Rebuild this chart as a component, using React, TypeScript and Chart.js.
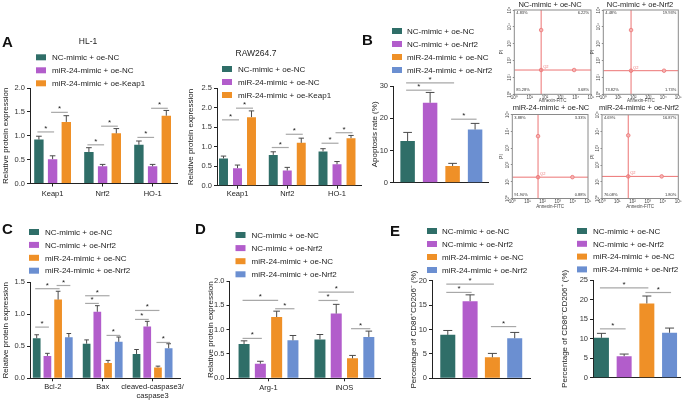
import React, { useEffect, useRef } from 'react';
import { Chart, registerables } from 'chart.js';

Chart.register(...registerables);

const FONT = "'Liberation Sans', Arial, Helvetica, sans-serif";
const TEAL = '#2f6e68';
const PURPLE = '#b25dcb';
const ORANGE = '#ef9027';
const BLUE = '#6b8fd1';
const AXIS = '#222222';

// ---------- data ----------
const GROUPS_3 = ['NC-mimic + oe-NC', 'miR-24-mimic + oe-NC', 'miR-24-mimic + oe-Keap1'];
const GROUPS_4 = ['NC-mimic + oe-NC', 'NC-mimic + oe-Nrf2', 'miR-24-mimic + oe-NC', 'miR-24-mimic + oe-Nrf2'];

const A_CATS = ['Keap1', 'Nrf2', 'HO-1'];
const HL1_MEAN = [[0.92, 0.66, 0.81], [0.51, 0.36, 0.36], [1.29, 1.05, 1.42]];
const HL1_SD = [[0.07, 0.09, 0.08], [0.07, 0.04, 0.04], [0.13, 0.10, 0.11]];
// [category, group a, group b, bracket height]
const HL1_SIG = [[0, 0, 1, 1.08], [0, 1, 2, 1.49], [1, 0, 1, 0.81], [1, 1, 2, 1.2], [2, 0, 1, 0.965], [2, 1, 2, 1.575]];

const RAW_MEAN = [[0.70, 0.79, 0.88], [0.45, 0.39, 0.55], [1.76, 1.10, 1.22]];
const RAW_SD = [[0.06, 0.08, 0.07], [0.08, 0.08, 0.07], [0.16, 0.12, 0.07]];
const RAW_SIG = [[0, 0, 1, 1.69], [0, 1, 2, 1.99], [1, 0, 1, 0.98], [1, 1, 2, 1.32], [2, 0, 1, 1.09], [2, 1, 2, 1.36]];

const B_CATS = [''];
const B_MEAN = [[12.9], [24.8], [5.2], [16.5]];
const B_SD = [[2.7], [3.2], [0.8], [1.9]];
const B_SIG = [[0, 0, 2, 31.0], [0, 0, 1, 28.7], [0, 2, 3, 19.7]];

const C_CATS = ['Bcl-2', 'Bax', ['cleaved-caspase3/', 'caspase3']];
const C_MEAN = [[0.625, 0.54, 0.38], [0.35, 1.04, 0.81], [1.23, 0.24, 0.17], [0.64, 0.57, 0.47]];
const C_SD = [[0.055, 0.06, 0.07], [0.04, 0.095, 0.08], [0.13, 0.04, 0.02], [0.06, 0.075, 0.07]];
const C_SIG = [[0, 0, 1, 0.8], [0, 0, 2, 1.4], [0, 2, 3, 1.45], [1, 0, 1, 1.17], [1, 0, 2, 1.29], [1, 2, 3, 0.67], [2, 0, 1, 0.92], [2, 0, 2, 1.06], [2, 2, 3, 0.56]];

const D_CATS = ['Arg-1', 'iNOS'];
const D_MEAN = [[0.705, 0.80], [0.30, 1.33], [1.26, 0.41], [0.78, 0.85]];
const D_SD = [[0.065, 0.10], [0.05, 0.19], [0.12, 0.06], [0.10, 0.12]];
const D_SIG = [[0, 0, 1, 0.82], [0, 0, 2, 1.6], [0, 2, 3, 1.43], [1, 0, 1, 1.6], [1, 0, 2, 1.77], [1, 2, 3, 1.02]];

const E1_MEAN = [[8.9], [15.8], [4.3], [8.2]];
const E1_SD = [[0.9], [1.3], [0.8], [1.2]];
const E1_SIG = [[0, 0, 1, 17.6], [0, 0, 2, 19.3], [0, 2, 3, 10.6]];

const E2_MEAN = [[10.2], [5.5], [19.0], [11.5]];
const E2_SD = [[1.15], [0.55], [1.9], [1.2]];
const E2_SIG = [[0, 0, 1, 12.5], [0, 0, 2, 23.0], [0, 2, 3, 21.8]];

const FLOW_TITLES = ['NC-mimic + oe-NC', 'NC-mimic + oe-Nrf2', 'miR-24-mimic + oe-NC', 'miR-24-mimic + oe-Nrf2'];
// upper-left, upper-right, lower-left, lower-right
const FLOW_QUADRANTS = [
  ['4.83%', '6.22%', '85.28%', '3.68%'],
  ['4.48%', '19.93%', '73.82%', '1.73%'],
  ['3.88%', '3.33%', '91.90%', '0.88%'],
  ['4.69%', '16.87%', '76.08%', '1.80%'],
];
// gate (log10 units): vertical x, horizontal y, top handle y, right handle x
const FLOW_GATES = [
  [1.75, 1.44, 3.81, 3.9],
  [1.85, 1.40, 3.81, 4.05],
  [1.70, 1.27, 3.71, 3.97],
  [1.72, 1.32, 3.77, 3.91],
];
const LOG_TICKS = [0, 1, 2, 3, 4, 5];
const SUP = ['⁰', '¹', '²', '³', '⁴', '⁵'];

// ---------- layout ----------
type Rect = { l: number; t: number; w: number; h: number };
type Area = { x0: number; x1: number; y0: number; y1: number };

const REL = 'Relative protein expression';

const BAR_SPECS: any[] = [
  {
    canvas: { l: 0, t: 30, w: 200, h: 175 }, area: { x0: 30, x1: 177, y0: 88, y1: 183.5 },
    cats: A_CATS, groups: GROUPS_3, colors: [TEAL, PURPLE, ORANGE], mean: HL1_MEAN, sd: HL1_SD, sig: HL1_SIG,
    xMin: -0.452, xMax: 2.488, catPct: 0.822, barPct: 0.686, yMax: 2, yStep: 0.5, yDec: 1, yTitle: REL,
    legend: { x: 36, y: 57.3, dy: 13, tx: 52, font: 8 }, title: { text: 'HL-1', x: 88, y: 42 }, xPad: 3, showX: true,
  },
  {
    canvas: { l: 185, t: 40, w: 195, h: 165 }, area: { x0: 217, x1: 361, y0: 88.3, y1: 185.7 },
    cats: A_CATS, groups: GROUPS_3, colors: [TEAL, PURPLE, ORANGE], mean: RAW_MEAN, sd: RAW_SD, sig: RAW_SIG,
    xMin: -0.412, xMax: 2.482, catPct: 0.844, barPct: 0.64, yMax: 2.5, yStep: 0.5, yDec: 1, yTitle: REL,
    legend: { x: 222, y: 69, dy: 13, tx: 238, font: 8 }, title: { text: 'RAW264.7', x: 256, y: 54 }, xPad: 1, showX: true,
  },
  {
    canvas: { l: 369, t: 20, w: 130, h: 170 }, area: { x0: 393, x1: 488, y0: 86, y1: 182.7 },
    cats: B_CATS, groups: GROUPS_4, colors: [TEAL, PURPLE, ORANGE, BLUE], mean: B_MEAN, sd: B_SD, sig: B_SIG,
    xMin: -0.509, xMax: 0.491, catPct: 0.947, barPct: 0.644, yMax: 30, yStep: 10, yDec: 0, yTitle: 'Apoptosis rate (%)',
    legend: { x: 392, y: 31, dy: 13, tx: 407, font: 8 }, xPad: 1, showX: false,
  },
  {
    canvas: { l: 0, t: 222, w: 200, h: 179 }, area: { x0: 30, x1: 180, y0: 282.3, y1: 378.3 },
    cats: C_CATS, groups: GROUPS_4, colors: [TEAL, PURPLE, ORANGE, BLUE], mean: C_MEAN, sd: C_SD, sig: C_SIG,
    xMin: -0.456, xMax: 2.549, catPct: 0.858, barPct: 0.72, yMax: 1.5, yStep: 0.5, yDec: 1, yTitle: REL,
    legend: { x: 29, y: 232, dy: 12.9, tx: 45, font: 8 }, xPad: 1, showX: true,
  },
  {
    canvas: { l: 204.5, t: 225, w: 190, h: 176 }, area: { x0: 229, x1: 380, y0: 281, y1: 378.3 },
    cats: D_CATS, groups: GROUPS_4, colors: [TEAL, PURPLE, ORANGE, BLUE], mean: D_MEAN, sd: D_SD, sig: D_SIG,
    xMin: -0.514, xMax: 1.476, catPct: 0.859, barPct: 0.675, yMax: 2, yStep: 0.5, yDec: 1, yTitle: REL,
    legend: { x: 235, y: 235, dy: 13.1, tx: 251, font: 8 }, xPad: 2, showX: true,
  },
  {
    canvas: { l: 408, t: 222, w: 135, h: 179 }, area: { x0: 432, x1: 530.5, y0: 280.7, y1: 378.3 },
    cats: B_CATS, groups: GROUPS_4, colors: [TEAL, PURPLE, ORANGE, BLUE], mean: E1_MEAN, sd: E1_SD, sig: E1_SIG,
    xMin: -0.5, xMax: 0.5, catPct: 0.906, barPct: 0.673, yMax: 20, yStep: 5, yDec: 0, yTitle: 'Percentage of CD86⁺CD206⁻ (%)',
    legend: { x: 427, y: 231, dy: 13, tx: 442, font: 8 }, xPad: 1, showX: false,
  },
  {
    canvas: { l: 559, t: 222, w: 126, h: 179 }, area: { x0: 593, x1: 680, y0: 280, y1: 377.7 },
    cats: B_CATS, groups: GROUPS_4, colors: [TEAL, PURPLE, ORANGE, BLUE], mean: E2_MEAN, sd: E2_SD, sig: E2_SIG,
    xMin: -0.4885, xMax: 0.5115, catPct: 1.044, barPct: 0.66, yMax: 25, yStep: 5, yDec: 0, yTitle: 'Percentage of CD86⁻CD206⁺ (%)',
    legend: { x: 577, y: 231, dy: 12.8, tx: 593, font: 8 }, xPad: 1, showX: false,
  },
];

const FLOW_LAYOUT: any[] = [
  { canvas: { l: 499, t: 0, w: 100, h: 105 }, area: { x0: 514.3, x1: 591, y0: 10, y1: 94.3 }, tx: 550, ty: 4.5, xTitleY: 101 },
  { canvas: { l: 590, t: 0, w: 95, h: 105 }, area: { x0: 603.3, x1: 678.3, y0: 10, y1: 94.3 }, tx: 640, ty: 4.5, xTitleY: 101 },
  { canvas: { l: 499, t: 100, w: 100, h: 110 }, area: { x0: 512.3, x1: 588, y0: 114.5, y1: 198.5 }, tx: 551, ty: 107.5, xTitleY: 206.5 },
  { canvas: { l: 590, t: 100, w: 95, h: 110 }, area: { x0: 602, x1: 678.3, y0: 114.8, y1: 198.5 }, tx: 639, ty: 107.5, xTitleY: 206.5 },
];

const LETTERS = [
  { t: 'A', x: 2, y: 35.5 },
  { t: 'B', x: 362, y: 33.5 },
  { t: 'C', x: 2, y: 223.3 },
  { t: 'D', x: 195, y: 223.3 },
  { t: 'E', x: 390, y: 224.5 },
];

function BarChart({ spec }: { spec: any }) {
  const ref = useRef<HTMLCanvasElement>(null);
  useEffect(() => {
    const s = spec;
    const cv: Rect = s.canvas;
    const area: Area = s.area;
    const datasets = s.groups.map((g: string, i: number) => ({
      label: g,
      data: s.mean[i].map((v: number, j: number) => ({ x: j, y: v })),
      backgroundColor: s.colors[i],
      borderWidth: 0,
      categoryPercentage: s.catPct,
      barPercentage: s.barPct,
    }));
    const extras = {
      id: 'extras',
      afterDatasetsDraw(chart: any) {
        const ctx = chart.ctx;
        const ys = chart.scales.y;
        ctx.save();
        // error bars (upper)
        chart.data.datasets.forEach((ds: any, i: number) => {
          const meta = chart.getDatasetMeta(i);
          meta.data.forEach((bar: any, j: number) => {
            const v = s.mean[i][j];
            const e = s.sd[i][j];
            const yb = ys.getPixelForValue(v);
            const yt = ys.getPixelForValue(v + e);
            const hw = bar.width * 0.3;
            ctx.strokeStyle = '#4a4a4a';
            ctx.lineWidth = 1;
            ctx.beginPath();
            ctx.moveTo(bar.x, yb);
            ctx.lineTo(bar.x, yt);
            ctx.moveTo(bar.x - hw, yt);
            ctx.lineTo(bar.x + hw, yt);
            ctx.stroke();
          });
        });
        // significance brackets
        s.sig.forEach((sg: number[]) => {
          const [c, a, b, h] = sg;
          const xa = chart.getDatasetMeta(a).data[c].x - 1.5;
          const xb = chart.getDatasetMeta(b).data[c].x + 1.5;
          const yy = ys.getPixelForValue(h);
          ctx.strokeStyle = '#a8a8a8';
          ctx.lineWidth = 1.2;
          ctx.beginPath();
          ctx.moveTo(xa, yy);
          ctx.lineTo(xb, yy);
          ctx.stroke();
          ctx.fillStyle = '#222';
          ctx.font = `8px ${FONT}`;
          ctx.textAlign = 'center';
          ctx.textBaseline = 'alphabetic';
          ctx.fillText('*', (xa + xb) / 2, yy - 1);
        });
        // legend
        const lg = s.legend;
        chart.data.datasets.forEach((ds: any, i: number) => {
          const ry = lg.y + i * lg.dy - cv.t;
          ctx.fillStyle = ds.backgroundColor;
          ctx.fillRect(lg.x - cv.l, ry - 3, 10, 6);
          ctx.fillStyle = '#222';
          ctx.font = `${lg.font}px ${FONT}`;
          ctx.textAlign = 'left';
          ctx.textBaseline = 'middle';
          ctx.fillText(ds.label, lg.tx - cv.l, ry + 0.5);
        });
        if (s.title) {
          ctx.fillStyle = '#222';
          ctx.font = `8.5px ${FONT}`;
          ctx.textAlign = 'center';
          ctx.textBaseline = 'middle';
          ctx.fillText(s.title.text, s.title.x - cv.l, s.title.y - cv.t);
        }
        ctx.restore();
      },
    };
    const chart = new Chart(ref.current as HTMLCanvasElement, {
      type: 'bar',
      data: { datasets },
      plugins: [extras],
      options: {
        responsive: false,
        animation: false,
        devicePixelRatio: 1,
        layout: { padding: { left: 0, top: area.y0 - cv.t, right: cv.l + cv.w - area.x1, bottom: 0 } },
        plugins: { legend: { display: false }, tooltip: { enabled: false } },
        scales: {
          x: {
            type: 'linear',
            min: s.xMin,
            max: s.xMax,
            bounds: 'data',
            offset: false,
            afterBuildTicks: (sc: any) => {
              sc.ticks = s.cats.map((_: any, i: number) => ({ value: i }));
            },
            afterFit: (sc: any) => {
              sc.height = cv.t + cv.h - area.y1;
            },
            grid: { display: s.showX, drawOnChartArea: false, drawTicks: true, tickLength: 3, color: AXIS, offset: false },
            border: { display: true, color: AXIS, width: 1 },
            ticks: {
              display: s.showX,
              autoSkip: false,
              maxRotation: 0,
              minRotation: 0,
              padding: s.xPad,
              color: '#222',
              font: { family: FONT, size: 7.5 },
              callback: (v: any) => (s.cats[v] !== undefined ? s.cats[v] : ''),
            },
          },
          y: {
            type: 'linear',
            min: 0,
            max: s.yMax,
            afterFit: (sc: any) => {
              sc.width = area.x0 - cv.l;
            },
            grid: { display: true, drawOnChartArea: false, drawTicks: true, tickLength: 3, color: AXIS },
            border: { display: true, color: AXIS, width: 1 },
            ticks: {
              stepSize: s.yStep,
              padding: 2,
              color: '#333',
              font: { family: FONT, size: 7.5 },
              callback: (v: any) => Number(v).toFixed(s.yDec),
            },
            title: {
              display: true,
              text: s.yTitle,
              color: '#222',
              font: { family: FONT, size: 8 },
              padding: { top: 1.2, bottom: 0 },
            },
          },
        },
      } as any,
    });
    return () => chart.destroy();
  }, [spec]);
  const c = spec.canvas;
  return (
    <canvas
      ref={ref}
      width={c.w}
      height={c.h}
      style={{ position: 'absolute', left: c.l, top: c.t, width: c.w, height: c.h }}
    />
  );
}

function FlowPlot({ idx }: { idx: number }) {
  const ref = useRef<HTMLCanvasElement>(null);
  const lay = FLOW_LAYOUT[idx];
  useEffect(() => {
    const cv: Rect = lay.canvas;
    const area: Area = lay.area;
    const [vx, hy, ty, rx] = FLOW_GATES[idx];
    const q = FLOW_QUADRANTS[idx];
    const GATE = '#ec7474';
    const datasets = [
      {
        data: [{ x: vx, y: 0 }, { x: vx, y: ty }, { x: vx, y: 5 }],
        showLine: true,
        borderColor: GATE,
        borderWidth: 1,
        pointRadius: [0, 1.8, 0],
        pointBackgroundColor: '#f5b3b3',
        pointBorderColor: GATE,
        pointBorderWidth: 0.8,
      },
      {
        data: [{ x: 0, y: hy }, { x: vx, y: hy }, { x: rx, y: hy }, { x: 5, y: hy }],
        showLine: true,
        borderColor: GATE,
        borderWidth: 1,
        pointRadius: [0, 1.8, 1.8, 0],
        pointBackgroundColor: '#f5b3b3',
        pointBorderColor: GATE,
        pointBorderWidth: 0.8,
      },
    ];
    const extras = {
      id: 'flowExtras',
      afterDatasetsDraw(chart: any) {
        const ctx = chart.ctx;
        const ca = chart.chartArea;
        const xs = chart.scales.x;
        const ys = chart.scales.y;
        ctx.save();
        ctx.strokeStyle = '#8a8a8a';
        ctx.lineWidth = 1;
        ctx.strokeRect(ca.left, ca.top, ca.right - ca.left, ca.bottom - ca.top);
        // rotated y tick labels
        ctx.fillStyle = '#444';
        ctx.font = `4.5px ${FONT}`;
        ctx.textAlign = 'center';
        ctx.textBaseline = 'middle';
        LOG_TICKS.forEach((v) => {
          ctx.save();
          ctx.translate(ca.left - 4.5, ys.getPixelForValue(v));
          ctx.rotate(-Math.PI / 2);
          ctx.fillText('10' + SUP[v], 0, 0);
          ctx.restore();
        });
        // quadrant percentages
        ctx.fillStyle = '#333';
        ctx.font = `4px ${FONT}`;
        ctx.textBaseline = 'middle';
        ctx.textAlign = 'left';
        ctx.fillText(q[0], ca.left + 2, ca.top + 3);
        ctx.fillText(q[2], ca.left + 2, ca.bottom - 4);
        ctx.textAlign = 'right';
        ctx.fillText(q[1], ca.right - 2, ca.top + 3);
        ctx.fillText(q[3], ca.right - 2, ca.bottom - 4);
        // gate name
        ctx.fillStyle = GATE;
        ctx.textAlign = 'left';
        ctx.fillText('Q2', xs.getPixelForValue(vx) + 2, ys.getPixelForValue(hy) - 3.3);
        // plot title
        ctx.fillStyle = '#222';
        ctx.font = `7.5px ${FONT}`;
        ctx.textAlign = 'center';
        ctx.textBaseline = 'middle';
        ctx.fillText(FLOW_TITLES[idx], lay.tx - cv.l, lay.ty - cv.t);
        ctx.restore();
      },
    };
    const chart = new Chart(ref.current as HTMLCanvasElement, {
      type: 'scatter',
      data: { datasets },
      plugins: [extras],
      options: {
        responsive: false,
        animation: false,
        devicePixelRatio: 1,
        layout: { padding: { left: 0, top: area.y0 - cv.t, right: cv.l + cv.w - area.x1, bottom: 0 } },
        plugins: { legend: { display: false }, tooltip: { enabled: false } },
        scales: {
          x: {
            type: 'linear',
            min: 0,
            max: 5,
            afterFit: (sc: any) => {
              sc.height = cv.t + cv.h - area.y1;
            },
            grid: { display: true, drawOnChartArea: false, tickLength: 1, color: '#8a8a8a' },
            border: { display: false },
            ticks: {
              stepSize: 1,
              padding: 0,
              autoSkip: false,
              maxRotation: 0,
              color: '#444',
              font: { family: FONT, size: 4.5 },
              callback: (v: any) => '10' + SUP[v],
            },
            title: {
              display: true,
              text: 'Annexin-FITC',
              color: '#444',
              font: { family: FONT, size: 4.5 },
              padding: { top: 0, bottom: Math.max(0, cv.t + cv.h - lay.xTitleY - 2.7) },
            },
          },
          y: {
            type: 'linear',
            min: 0,
            max: 5,
            afterFit: (sc: any) => {
              sc.width = area.x0 - cv.l;
            },
            grid: { display: true, drawOnChartArea: false, tickLength: 1.5, color: '#8a8a8a' },
            border: { display: false },
            ticks: { display: false, stepSize: 1 },
            title: {
              display: true,
              text: 'PI',
              color: '#444',
              font: { family: FONT, size: 4.5 },
              padding: { top: 0, bottom: 0 },
            },
          },
        },
      } as any,
    });
    return () => chart.destroy();
  }, [idx]);
  const c = lay.canvas;
  return (
    <canvas
      ref={ref}
      width={c.w}
      height={c.h}
      style={{ position: 'absolute', left: c.l, top: c.t, width: c.w, height: c.h }}
    />
  );
}

export default function App() {
  return (
    <div
      style={{
        position: 'absolute',
        left: 0,
        top: 0,
        width: 685,
        height: 401,
        background: '#ffffff',
        overflow: 'hidden',
        fontFamily: FONT,
      }}
    >
      {BAR_SPECS.map((s, i) => (
        <BarChart key={'b' + i} spec={s} />
      ))}
      {FLOW_TITLES.map((_, i) => (
        <FlowPlot key={'f' + i} idx={i} />
      ))}
      {LETTERS.map((L) => (
        <div
          key={L.t}
          style={{
            position: 'absolute',
            left: L.x,
            top: L.y - 2,
            fontSize: 15,
            lineHeight: '15px',
            fontWeight: 'bold',
            color: '#111',
            fontFamily: FONT,
          }}
        >
          {L.t}
        </div>
      ))}
    </div>
  );
}
